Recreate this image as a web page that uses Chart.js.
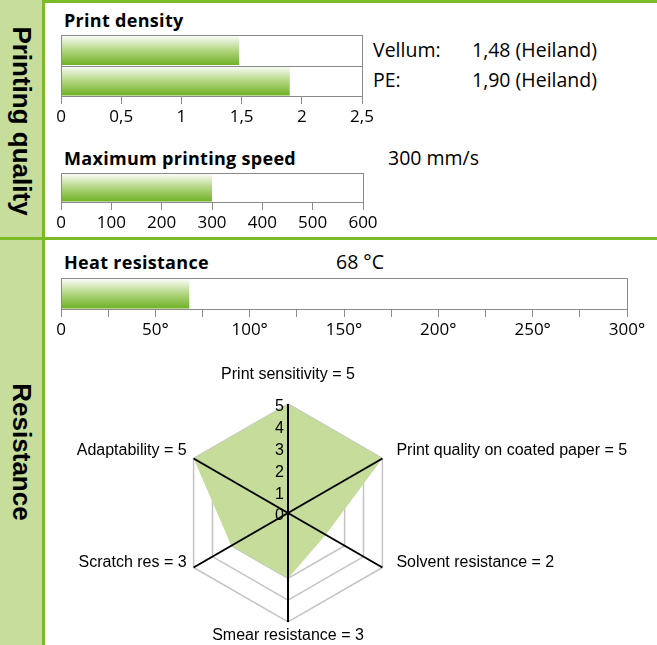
<!DOCTYPE html>
<html lang="en">
<head>
<meta charset="UTF-8">
<title>Label material properties</title>
<script src="https://cdn.jsdelivr.net/npm/chart.js@4.4.0/dist/chart.umd.min.js"></script>
<style>
  body { margin: 0; width: 657px; height: 645px; overflow: hidden; position: relative; background: #fff; font-family: 'Open Sans', sans-serif; color: #000; }
  .abs { position: absolute; }
  .side { left: 0; top: 0; width: 42px; height: 645px; background: #c6dd9c; }
  .vline { left: 42px; top: 0; width: 3px; height: 645px; background: #7cbb28; }
  .hline { height: 3px; background: #7cbb28; }
  .section { font-family: 'Liberation Sans', Arial, sans-serif; font-weight: bold; font-size: 26px; white-space: nowrap; transform: translate(-50%, -50%) rotate(90deg); }
  .title { font-weight: bold; font-size: 18px; letter-spacing: 0.3px; line-height: 20px; white-space: nowrap; }
  .note { font-size: 19.5px; line-height: 20px; white-space: nowrap; }
</style>
</head>
<body>
  <div class="abs side"></div>
  <div class="abs vline"></div>
  <div class="abs hline" style="left:42px; top:0; width:615px;"></div>
  <div class="abs hline" style="left:0; top:237px; width:657px;"></div>
  <div class="abs section" style="left:21px; top:121px;">Printing quality</div>
  <div class="abs section" style="left:21px; top:452px;">Resistance</div>

  <div class="abs title" style="left:64px; top:10px;">Print density</div>
  <div class="abs note" style="left:373px; top:40px;">Vellum:</div>
  <div class="abs note" style="left:472px; top:40px;">1,48 (Heiland)</div>
  <div class="abs note" style="left:373px; top:70px;">PE:</div>
  <div class="abs note" style="left:472px; top:70px;">1,90 (Heiland)</div>
  <canvas class="abs" id="density" width="351" height="97" style="left:41px; top:33px;"></canvas>

  <div class="abs title" style="left:64px; top:148px;">Maximum printing speed</div>
  <div class="abs note" style="left:388px; top:148px;">300 mm/s</div>
  <canvas class="abs" id="speed" width="352" height="65" style="left:41px; top:171px;"></canvas>

  <div class="abs title" style="left:64px; top:252px;">Heat resistance</div>
  <div class="abs note" style="left:336px; top:252px;">68 °C</div>
  <canvas class="abs" id="heat" width="616" height="67" style="left:41px; top:276px;"></canvas>

  <canvas class="abs" id="radar" width="612" height="285" style="left:45px; top:360px;"></canvas>

<script>
const densityCats = ['Vellum', 'PE'];
const densityValues = [1.48, 1.90];
const speedCats = ['Maximum printing speed'];
const speedValues = [300];
const heatCats = ['Heat resistance'];
const heatValues = [68];
const radarCats = ['Print sensitivity = 5', 'Print quality on coated paper = 5', 'Solvent resistance = 2',
  'Smear resistance = 3', 'Scratch res = 3', 'Adaptability = 5'];
const radarValues = [5, 5, 2, 3, 3, 5];

// green bar, light at the top and dark at the bottom of each band
function barFill(c) {
  const chart = c.chart;
  const area = chart.chartArea;
  const y = chart.scales.y;
  if (!area || !y) return '#76b82a';
  const band = (area.bottom - area.top) / chart.data.labels.length;
  const top = y.getPixelForValue(c.dataIndex) - band / 2;
  const g = chart.ctx.createLinearGradient(0, top, 0, top + band);
  g.addColorStop(0, '#ffffff');
  g.addColorStop(0.5, '#b3d682');
  g.addColorStop(1, '#6cb023');
  return g;
}

// grey box round the plot, with a line between categories
const frame = {
  id: 'frame',
  afterDatasetsDraw(chart) {
    const { ctx, chartArea: a } = chart;
    const y = chart.scales.y;
    ctx.save();
    ctx.strokeStyle = '#8a8a8a';
    ctx.lineWidth = 1;
    ctx.strokeRect(Math.round(a.left) + 0.5, Math.round(a.top) + 0.5, Math.round(a.right - a.left), Math.round(a.bottom - a.top));
    for (let i = 1; i < chart.data.labels.length; i++) {
      const yy = Math.round((y.getPixelForValue(i - 1) + y.getPixelForValue(i)) / 2) + 0.5;
      ctx.beginPath();
      ctx.moveTo(a.left, yy);
      ctx.lineTo(a.right, yy);
      ctx.stroke();
    }
    ctx.restore();
  }
};

function barChart(id, cats, values, max, step, fmt) {
  return new Chart(document.getElementById(id), {
    type: 'bar',
    data: {
      labels: cats,
      datasets: [{ data: values, backgroundColor: barFill, barPercentage: 0.97, categoryPercentage: 1 }]
    },
    options: {
      indexAxis: 'y',
      responsive: false,
      animation: false,
      layout: { padding: { left: 20, right: 30, top: 2, bottom: 0 } },
      plugins: { legend: { display: false }, tooltip: { enabled: false } },
      scales: {
        x: {
          min: 0,
          max: max,
          afterFit: s => { s.height = 34; },
          grid: { drawOnChartArea: false, tickLength: 8, color: '#8a8a8a' },
          border: { display: false },
          ticks: {
            stepSize: step, autoSkip: false, maxRotation: 0, padding: 3, color: '#000',
            font: { family: 'Open Sans', size: 17 },
            callback: fmt
          }
        },
        y: { display: false }
      }
    },
    plugins: [frame]
  });
}

barChart('density', densityCats, densityValues, 2.5, 0.5, v => String(v).replace('.', ','));
barChart('speed', speedCats, speedValues, 600, 100, v => String(v));
barChart('heat', heatCats, heatValues, 300, 25, v => (v % 50 ? '' : (v ? v + '°' : '0')));

// black spokes over the fill, value ticks and category labels
const radarDecor = {
  id: 'radarDecor',
  afterDatasetsDraw(chart) {
    const { ctx } = chart;
    const r = chart.scales.r;
    const n = chart.data.labels.length;
    ctx.save();
    ctx.strokeStyle = '#000';
    ctx.lineWidth = 2;
    for (let i = 0; i < n; i++) {
      const p = r.getPointPosition(i, r.drawingArea);
      ctx.beginPath();
      ctx.moveTo(r.xCenter, r.yCenter);
      ctx.lineTo(p.x, p.y);
      ctx.stroke();
    }
    ctx.fillStyle = '#000';
    ctx.font = '16px "Liberation Sans", Arial, sans-serif';
    ctx.textAlign = 'right';
    ctx.textBaseline = 'middle';
    r.ticks.forEach(t => {
      const p = r.getPointPositionForValue(0, t.value);
      ctx.fillText(String(t.value), r.xCenter - 4, p.y + 3);
    });
    ctx.font = '16px "Liberation Sans", Arial, sans-serif';
    chart.data.labels.forEach((label, i) => {
      const p = r.getPointPosition(i, r.drawingArea);
      const side = Math.abs(p.x - r.xCenter) < 1 ? 0 : Math.sign(p.x - r.xCenter);
      const up = p.y < r.yCenter;
      ctx.textAlign = side === 0 ? 'center' : (side > 0 ? 'left' : 'right');
      const dx = side > 0 ? 14 : (side < 0 ? -7 : 0);
      const dy = side === 0 ? (up ? -29 : 14) : (up ? -8 : -5);
      ctx.fillText(label, p.x + dx, p.y + dy);
    });
    ctx.restore();
  }
};

new Chart(document.getElementById('radar'), {
  type: 'radar',
  data: {
    labels: radarCats,
    datasets: [{ data: radarValues, backgroundColor: '#c5dc9a', borderWidth: 0, pointRadius: 0, fill: true }]
  },
  options: {
    responsive: false,
    animation: false,
    layout: { padding: { left: 134, right: 260, top: 44, bottom: 23 } },
    plugins: { legend: { display: false }, tooltip: { enabled: false } },
    scales: {
      r: {
        min: 0,
        max: 5,
        ticks: { stepSize: 1, display: false },
        grid: { color: '#c4c4c4', lineWidth: 1.5 },
        angleLines: { display: false },
        pointLabels: { display: false }
      }
    }
  },
  plugins: [radarDecor]
});
</script>
</body>
</html>
